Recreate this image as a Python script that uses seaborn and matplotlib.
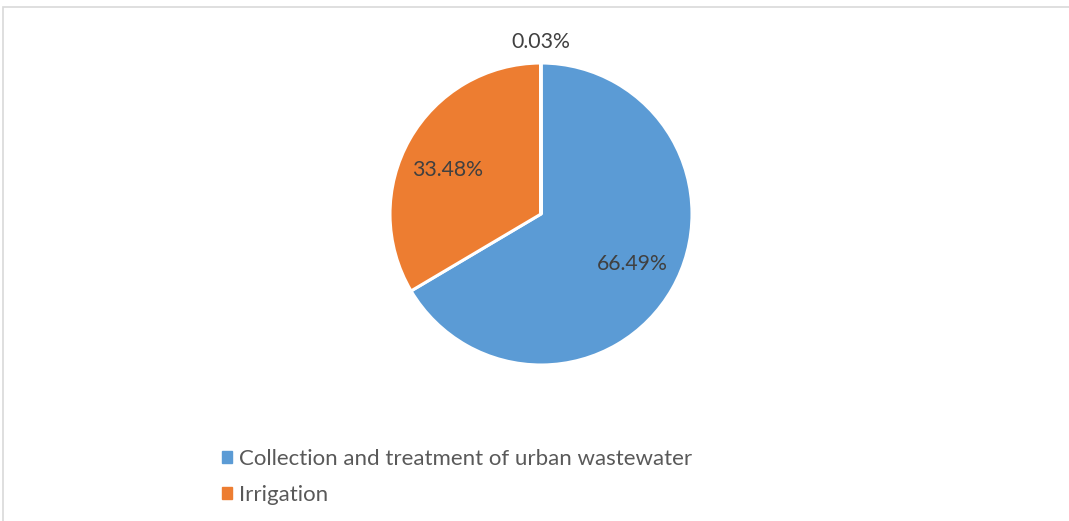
import matplotlib
matplotlib.use("Agg")
import matplotlib.pyplot as plt
import matplotlib.patches as mpatches
import seaborn as sns
import numpy as np

categories = ["Collection and treatment of urban wastewater", "Irrigation", "Other"]
values = [66.49, 33.48, 0.03]
legend_entries = ["Collection and treatment of urban wastewater", "Irrigation"]
colors = ["#5B9BD5", "#ED7D31", "#A5A5A5"]

sns.set_theme(style="white")
plt.rcParams['font.family'] = ['Lato', 'DejaVu Sans']

fig = plt.figure(figsize=(10.69, 5.21), dpi=100)
fig.patch.set_facecolor("white")

W, H = 1069, 521
cx, cy, r = 541, 214, 151
ax = fig.add_axes([(cx - r) / W, (H - cy - r) / H, 2 * r / W, 2 * r / H])

pal = sns.color_palette(colors)
wedges, texts, autotexts = ax.pie(
    values, colors=pal, startangle=90, counterclock=False,
    autopct=lambda p: f"{p:.2f}%", pctdistance=0.66,
    wedgeprops=dict(edgecolor="white", linewidth=2.2),
    textprops=dict(color="#404040", fontsize=15.3),
)
ax.set_xlim(-1, 1)
ax.set_ylim(-1, 1)
ax.set_aspect("equal")

# label placement (Excel "best fit"): distance and angular nudge per slice
dists = [0.68, 0.69, 1.15]
nudges = [1.9, 3.5, 0.0]
for w, t, d, n in zip(wedges, autotexts, dists, nudges):
    ang = np.deg2rad((w.theta1 + w.theta2) / 2 + n)
    t.set_position((d * np.cos(ang), d * np.sin(ang)))
    t.set_ha("center"); t.set_va("center_baseline")

handles = [mpatches.Patch(color=c) for c in colors[:len(legend_entries)]]
fig.legend(handles, legend_entries, loc="upper left",
           bbox_to_anchor=(222 / W, 1 - 449 / H), frameon=False,
           handlelength=0.45, handleheight=0.45, handletextpad=0.33,
           labelspacing=0.72, borderpad=0, borderaxespad=0,
           prop=dict(size=16), labelcolor="#595959")

border = mpatches.Rectangle((2.5 / W, -0.1), 1.2, 1.1 - 6.5 / H,
                            transform=fig.transFigure, fill=False,
                            edgecolor="#D9D9D9", linewidth=1.2)
fig.add_artist(border)

fig.savefig("out.png", dpi=100)
